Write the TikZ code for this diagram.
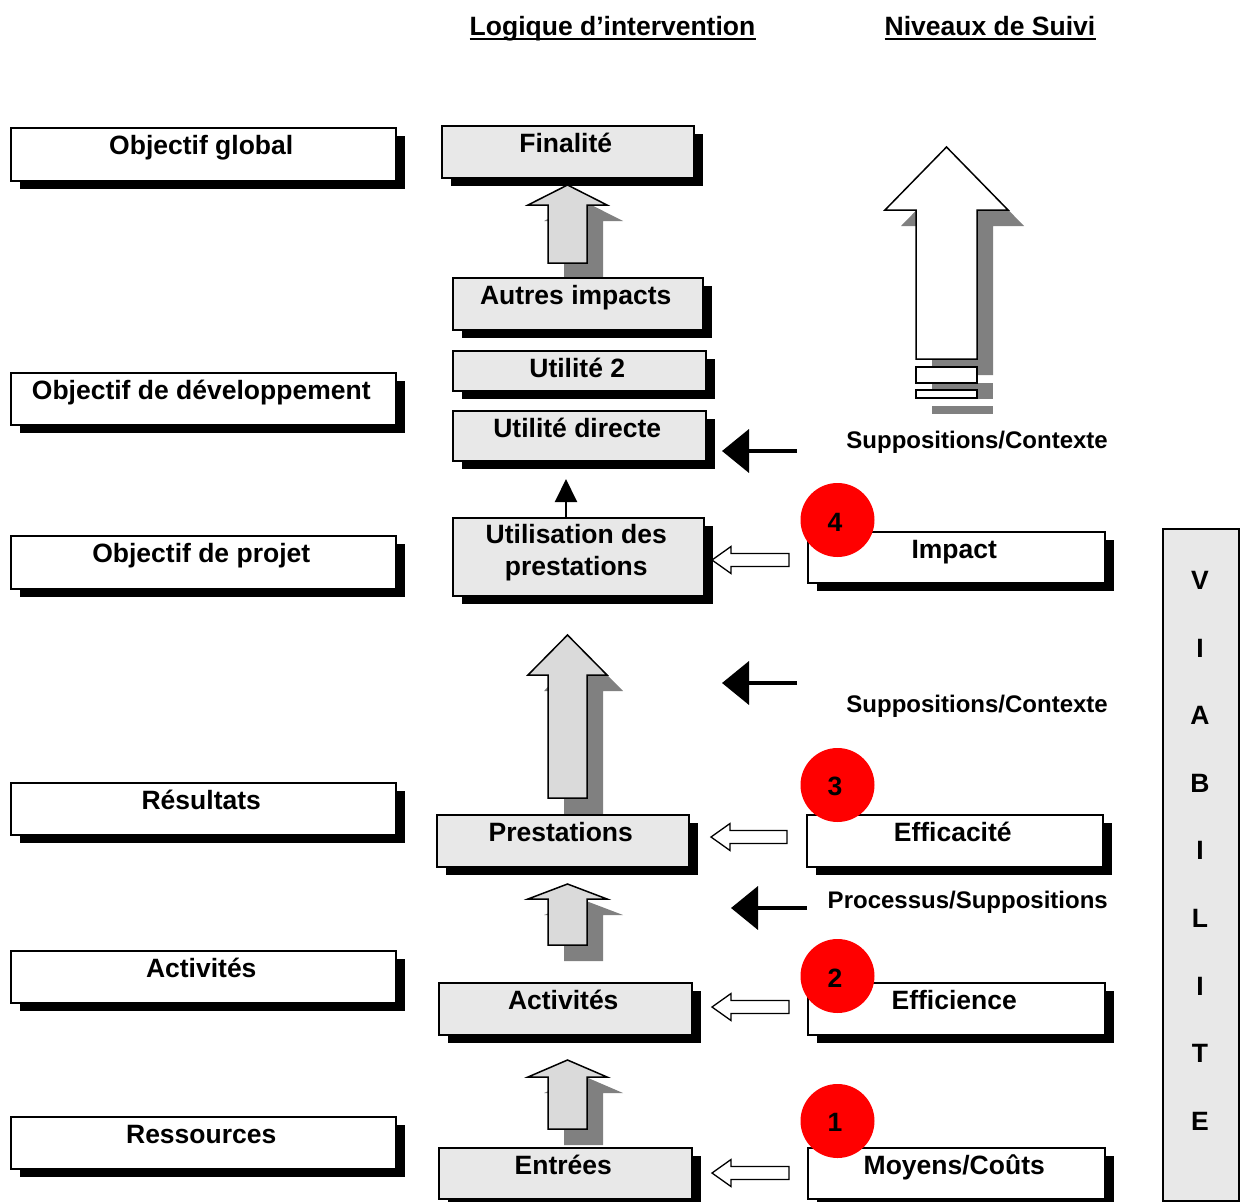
\documentclass[tikz,border=0pt]{standalone}
\usepackage{fontspec}
\setmainfont{Liberation Sans}
\usetikzlibrary{arrows.meta,shadows}

\definecolor{boxgray}{RGB}{232,232,232}
\definecolor{arrowfill}{RGB}{218,218,218}
\definecolor{shadegray}{RGB}{128,128,128}
\definecolor{markred}{RGB}{255,0,0}

% upward block arrow with its grey shadow:
% #1 centre x, #2 tip y, #3 head base y, #4 tail y, #5 head half width, #6 shaft half width, #7 fill
\newcommand\blockuparrow[7]{%
  \fill[shadegray, shift={(16,16)}] (#1,#2) -- (#1+#5,#3) -- (#1+#6,#3) -- (#1+#6,#4)
    -- (#1-#6,#4) -- (#1-#6,#3) -- (#1-#5,#3) -- cycle;
  \draw[line width=1.5pt, line join=miter, fill=#7] (#1,#2) -- (#1+#5,#3) -- (#1+#6,#3) -- (#1+#6,#4)
    -- (#1-#6,#4) -- (#1-#6,#3) -- (#1-#5,#3) -- cycle;
}
% left-pointing outlined block arrow: #1 tail x, #2 tip x, #3 centre y
\newcommand\blockleftarrow[3]{%
  \draw[line width=1.3pt, fill=white] (#2,#3) -- (#2+19,#3-13.5) -- (#2+19,#3-6.5) -- (#1,#3-6.5)
    -- (#1,#3+6.5) -- (#2+19,#3+6.5) -- (#2+19,#3+13.5) -- cycle;
}

\tikzset{
  txtfont/.style={font=\bfseries\fontsize{26.5}{32}\selectfont},
  plainbox/.style={draw=black, line width=1.5pt, anchor=north west, inner sep=0pt},
  basebox/.style={plainbox,
    drop shadow={shadow xshift=9pt, shadow yshift=-8pt, fill=black, opacity=1}},
  whitebox/.style={basebox, fill=white},
  graybox/.style={basebox, fill=boxgray},
  boxtext/.style={txtfont, anchor=base, inner sep=0pt},
  sidetext/.style={font=\bfseries\fontsize{24}{29}\selectfont, anchor=base east, inner sep=0pt},
  numdisc/.style={circle, fill=markred, draw=none, minimum size=74pt, inner sep=0pt},
  blackarrow/.style={line width=4pt, -{Triangle[length=27pt,width=43pt]}},
  thinarrow/.style={line width=2pt, -{Triangle[length=23pt,width=22pt]}},
}

\begin{document}
\begin{tikzpicture}[x=1pt, y=-1pt]
\useasboundingbox (0,0) rectangle (1240,1202);

% column headings
\node[boxtext] (h1) at (612.5,35) {Logique d’intervention};
\node[boxtext] (h2) at (990,35) {Niveaux de Suivi};
\draw[line width=2pt] ([yshift=-4pt]h1.base west) -- ([yshift=-4pt]h1.base east);
\draw[line width=2pt] ([yshift=-4pt]h2.base west) -- ([yshift=-4pt]h2.base east);

% block arrows of the intervention logic
\blockuparrow{567.5}{185}{205}{263}{39.5}{19.5}{arrowfill}
\blockuparrow{567.5}{635}{675}{798}{39.5}{19.5}{arrowfill}
\blockuparrow{567.5}{884}{899}{945}{39.5}{19.5}{arrowfill}
\blockuparrow{567.5}{1060}{1077}{1129}{39.5}{19.5}{arrowfill}

% large monitoring arrow with its two bars
\fill[shadegray, shift={(16,16)}] (916,367) rectangle (977,383);
\fill[shadegray, shift={(16,16)}] (916,390) rectangle (977,398);
\blockuparrow{946.5}{147}{210}{359}{61.5}{30.5}{white}
\draw[line width=1.5pt, fill=white] (916,367) rectangle (977,383);
\draw[line width=1.5pt, fill=white] (916,390) rectangle (977,398);

% left column
\node[whitebox, minimum width=385pt, minimum height=53pt] (og) at (10,127) {};
\node[whitebox, minimum width=385pt, minimum height=52pt] (odev) at (10,372) {};
\node[whitebox, minimum width=385pt, minimum height=53pt] (oproj) at (10,535) {};
\node[whitebox, minimum width=385pt, minimum height=52pt] (res) at (10,782) {};
\node[whitebox, minimum width=385pt, minimum height=52pt] (act) at (10,950) {};
\node[whitebox, minimum width=385pt, minimum height=52pt] (ress) at (10,1116) {};
\node[boxtext] (t-og) at ([yshift=-27pt,xshift=-2pt]og.north) {Objectif global};
\node[boxtext] (t-odev) at ([yshift=-27pt,xshift=-2pt]odev.north) {Objectif de développement};
\node[boxtext] (t-oproj) at ([yshift=-27pt,xshift=-2pt]oproj.north) {Objectif de projet};
\node[boxtext] (t-res) at ([yshift=-27pt,xshift=-2pt]res.north) {Résultats};
\node[boxtext] (t-act) at ([yshift=-27pt,xshift=-2pt]act.north) {Activités};
\node[boxtext] (t-ress) at ([yshift=-27pt,xshift=-2pt]ress.north) {Ressources};

% middle column
\node[graybox, minimum width=252pt, minimum height=52pt] (fin) at (441,125) {};
\node[graybox, minimum width=250pt, minimum height=52pt] (autres) at (452,277) {};
\node[graybox, minimum width=253pt, minimum height=40pt] (ut2) at (452,350) {};
\node[graybox, minimum width=253pt, minimum height=50pt] (udir) at (452,410) {};
\node[graybox, minimum width=251pt, minimum height=78pt] (utilis) at (452,517) {};
\node[graybox, minimum width=252pt, minimum height=52pt] (prest) at (436,814) {};
\node[graybox, minimum width=253pt, minimum height=52pt] (activ) at (438,982) {};
\node[graybox, minimum width=253pt, minimum height=51pt] (entr) at (438,1147) {};
\node[boxtext] (t-fin) at ([yshift=-27pt,xshift=-2pt]fin.north) {Finalité};
\node[boxtext] (t-autres) at ([yshift=-27pt,xshift=-2pt]autres.north) {Autres impacts};
\node[boxtext] (t-ut2) at ([yshift=-27pt,xshift=-2pt]ut2.north) {Utilité 2};
\node[boxtext] (t-udir) at ([yshift=-27pt,xshift=-2pt]udir.north) {Utilité directe};
\node[boxtext] (t-utilis1) at ([yshift=-26pt,xshift=-2pt]utilis.north) {Utilisation des};
\node[boxtext] (t-utilis2) at ([yshift=-58pt,xshift=-2pt]utilis.north) {prestations};
\node[boxtext] (t-prest) at ([yshift=-27pt,xshift=-2pt]prest.north) {Prestations};
\node[boxtext] (t-activ) at ([yshift=-27pt,xshift=-2pt]activ.north) {Activités};
\node[boxtext] (t-entr) at ([yshift=-27pt,xshift=-2pt]entr.north) {Entrées};

% right column
\node[whitebox, minimum width=297pt, minimum height=51pt] (impact) at (807,531) {};
\node[whitebox, minimum width=296pt, minimum height=52pt] (effic) at (806,814) {};
\node[whitebox, minimum width=297pt, minimum height=52pt] (effience) at (807,982) {};
\node[whitebox, minimum width=297pt, minimum height=51pt] (moyens) at (807,1147) {};
\node[boxtext] (t-impact) at ([yshift=-27pt,xshift=-2pt]impact.north) {Impact};
\node[boxtext] (t-effic) at ([yshift=-27pt,xshift=-2pt]effic.north) {Efficacité};
\node[boxtext] (t-effience) at ([yshift=-27pt,xshift=-2pt]effience.north) {Efficience};
\node[boxtext] (t-moyens) at ([yshift=-27pt,xshift=-2pt]moyens.north) {Moyens/Coûts};

% viability bar
\node[plainbox, fill=boxgray, minimum width=76pt, minimum height=672pt] (viab) at (1162,528) {};
\foreach \ch [count=\i from 0] in {V,I,A,B,I,L,I,T,E}
  \node[boxtext] (v\i) at (1200,589.5+67.6*\i) {\ch};

% small arrow from use of services to direct utility
\coordinate (thintip) at (566,479);
\draw[thinarrow] (thintip |- utilis.north) -- (thintip);

% assumption arrows
\coordinate (ba1) at (797,451); \coordinate (ba1t) at (722,451);
\coordinate (ba2) at (797,683); \coordinate (ba2t) at (722,683);
\coordinate (ba3) at (807,908); \coordinate (ba3t) at (731,908);
\draw[blackarrow] (ba1) -- (ba1t);
\draw[blackarrow] (ba2) -- (ba2t);
\draw[blackarrow] (ba3) -- (ba3t);
\node[sidetext] (s1) at (1108,448) {Suppositions/Contexte};
\node[sidetext] (s2) at (1108,712) {Suppositions/Contexte};
\node[sidetext] (s3) at (1108,908) {Processus/Suppositions};

% monitoring level arrows
\blockleftarrow{789}{712}{560}
\blockleftarrow{787}{711}{837}
\blockleftarrow{789}{712}{1007}
\blockleftarrow{789}{712}{1173}

% numbered discs
\node[numdisc] (n4) at (837.5,520) {};
\node[numdisc] (n3) at (837.5,785) {};
\node[numdisc] (n2) at (837.5,976) {};
\node[numdisc] (n1) at (837.5,1121) {};
\node[boxtext] (d4) at (835,531) {4};
\node[boxtext] (d3) at (835,795) {3};
\node[boxtext] (d2) at (835,987) {2};
\node[boxtext] (d1) at (835,1131) {1};
\end{tikzpicture}
\end{document}
